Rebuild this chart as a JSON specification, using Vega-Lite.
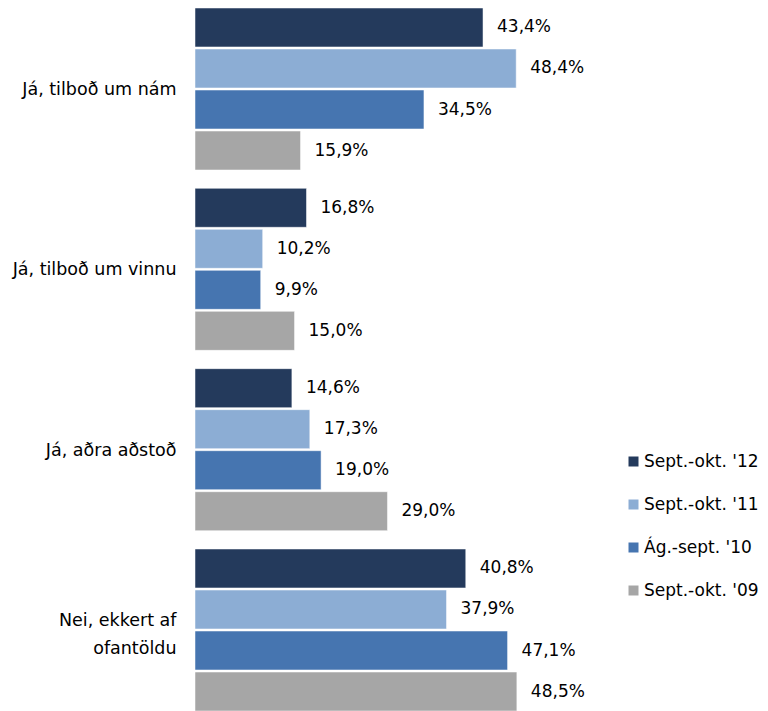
{
  "$schema": "https://vega.github.io/schema/vega-lite/v6.json",
  "width": 365,
  "height": 703,
  "autosize": {"type": "none"},
  "padding": {"left": 195, "top": 8, "right": 208, "bottom": 0},
  "background": "white",
  "data": {
    "values": [
      {"category": "Já, tilboð um nám", "period": "Sept.-okt. '12", "value": 43.4},
      {"category": "Já, tilboð um nám", "period": "Sept.-okt. '11", "value": 48.4},
      {"category": "Já, tilboð um nám", "period": "Ág.-sept. '10", "value": 34.5},
      {"category": "Já, tilboð um nám", "period": "Sept.-okt. '09", "value": 15.9},
      {"category": "Já, tilboð um vinnu", "period": "Sept.-okt. '12", "value": 16.8},
      {"category": "Já, tilboð um vinnu", "period": "Sept.-okt. '11", "value": 10.2},
      {"category": "Já, tilboð um vinnu", "period": "Ág.-sept. '10", "value": 9.9},
      {"category": "Já, tilboð um vinnu", "period": "Sept.-okt. '09", "value": 15.0},
      {"category": "Já, aðra aðstoð", "period": "Sept.-okt. '12", "value": 14.6},
      {"category": "Já, aðra aðstoð", "period": "Sept.-okt. '11", "value": 17.3},
      {"category": "Já, aðra aðstoð", "period": "Ág.-sept. '10", "value": 19.0},
      {"category": "Já, aðra aðstoð", "period": "Sept.-okt. '09", "value": 29.0},
      {"category": "Nei, ekkert af ofantöldu", "period": "Sept.-okt. '12", "value": 40.8},
      {"category": "Nei, ekkert af ofantöldu", "period": "Sept.-okt. '11", "value": 37.9},
      {"category": "Nei, ekkert af ofantöldu", "period": "Ág.-sept. '10", "value": 47.1},
      {"category": "Nei, ekkert af ofantöldu", "period": "Sept.-okt. '09", "value": 48.5}
    ]
  },
  "transform": [
    {"calculate": "replace(format(datum.value, '.1f'), '.', ',') + '%'", "as": "label"}
  ],
  "encoding": {
    "y": {
      "field": "category",
      "type": "nominal",
      "sort": ["Já, tilboð um nám", "Já, tilboð um vinnu", "Já, aðra aðstoð", "Nei, ekkert af ofantöldu"],
      "scale": {"paddingInner": 0.1017, "paddingOuter": 0},
      "axis": {
        "title": null,
        "domain": false,
        "ticks": false,
        "labelPadding": 19,
        "labelFont": "DejaVu Sans",
        "labelFontSize": 17.5,
        "labelColor": "#000000",
        "labelLineHeight": 28,
        "labelLimit": 300,
        "labelExpr": "datum.value == 'Nei, ekkert af ofantöldu' ? ['Nei, ekkert af', 'ofantöldu'] : datum.value",
        "labelOffset": {"expr": "datum.value == 'Nei, ekkert af ofantöldu' ? -9 : 1"}
      }
    },
    "yOffset": {
      "field": "period",
      "type": "nominal",
      "sort": ["Sept.-okt. '12", "Sept.-okt. '11", "Ág.-sept. '10", "Sept.-okt. '09"],
      "scale": {"paddingInner": 0.05, "paddingOuter": 0}
    },
    "x": {
      "field": "value",
      "type": "quantitative",
      "scale": {"domain": [0, 55]},
      "axis": null
    }
  },
  "layer": [
    {
      "mark": {"type": "bar", "stroke": "white", "strokeWidth": 0.5},
      "encoding": {
        "color": {
          "field": "period",
          "type": "nominal",
          "sort": ["Sept.-okt. '12", "Sept.-okt. '11", "Ág.-sept. '10", "Sept.-okt. '09"],
          "scale": {
            "domain": ["Sept.-okt. '12", "Sept.-okt. '11", "Ág.-sept. '10", "Sept.-okt. '09"],
            "range": ["#243A5C", "#8CADD4", "#4675B0", "#A6A6A6"]
          },
          "legend": {
            "title": null,
            "orient": "none",
            "legendX": 430,
            "legendY": 445,
            "symbolType": "square",
            "symbolSize": 100,
            "symbolStrokeWidth": 0,
            "labelFont": "DejaVu Sans",
            "labelFontSize": 17,
            "labelColor": "#000000",
            "labelOffset": 2,
            "rowPadding": 25,
            "labelLimit": 200
          }
        }
      }
    },
    {
      "mark": {
        "type": "text",
        "align": "left",
        "baseline": "middle",
        "dx": 14,
        "font": "DejaVu Sans",
        "fontSize": 17,
        "color": "#000000"
      },
      "encoding": {
        "text": {"field": "label", "type": "nominal"}
      }
    }
  ],
  "config": {
    "view": {"stroke": null}
  }
}
